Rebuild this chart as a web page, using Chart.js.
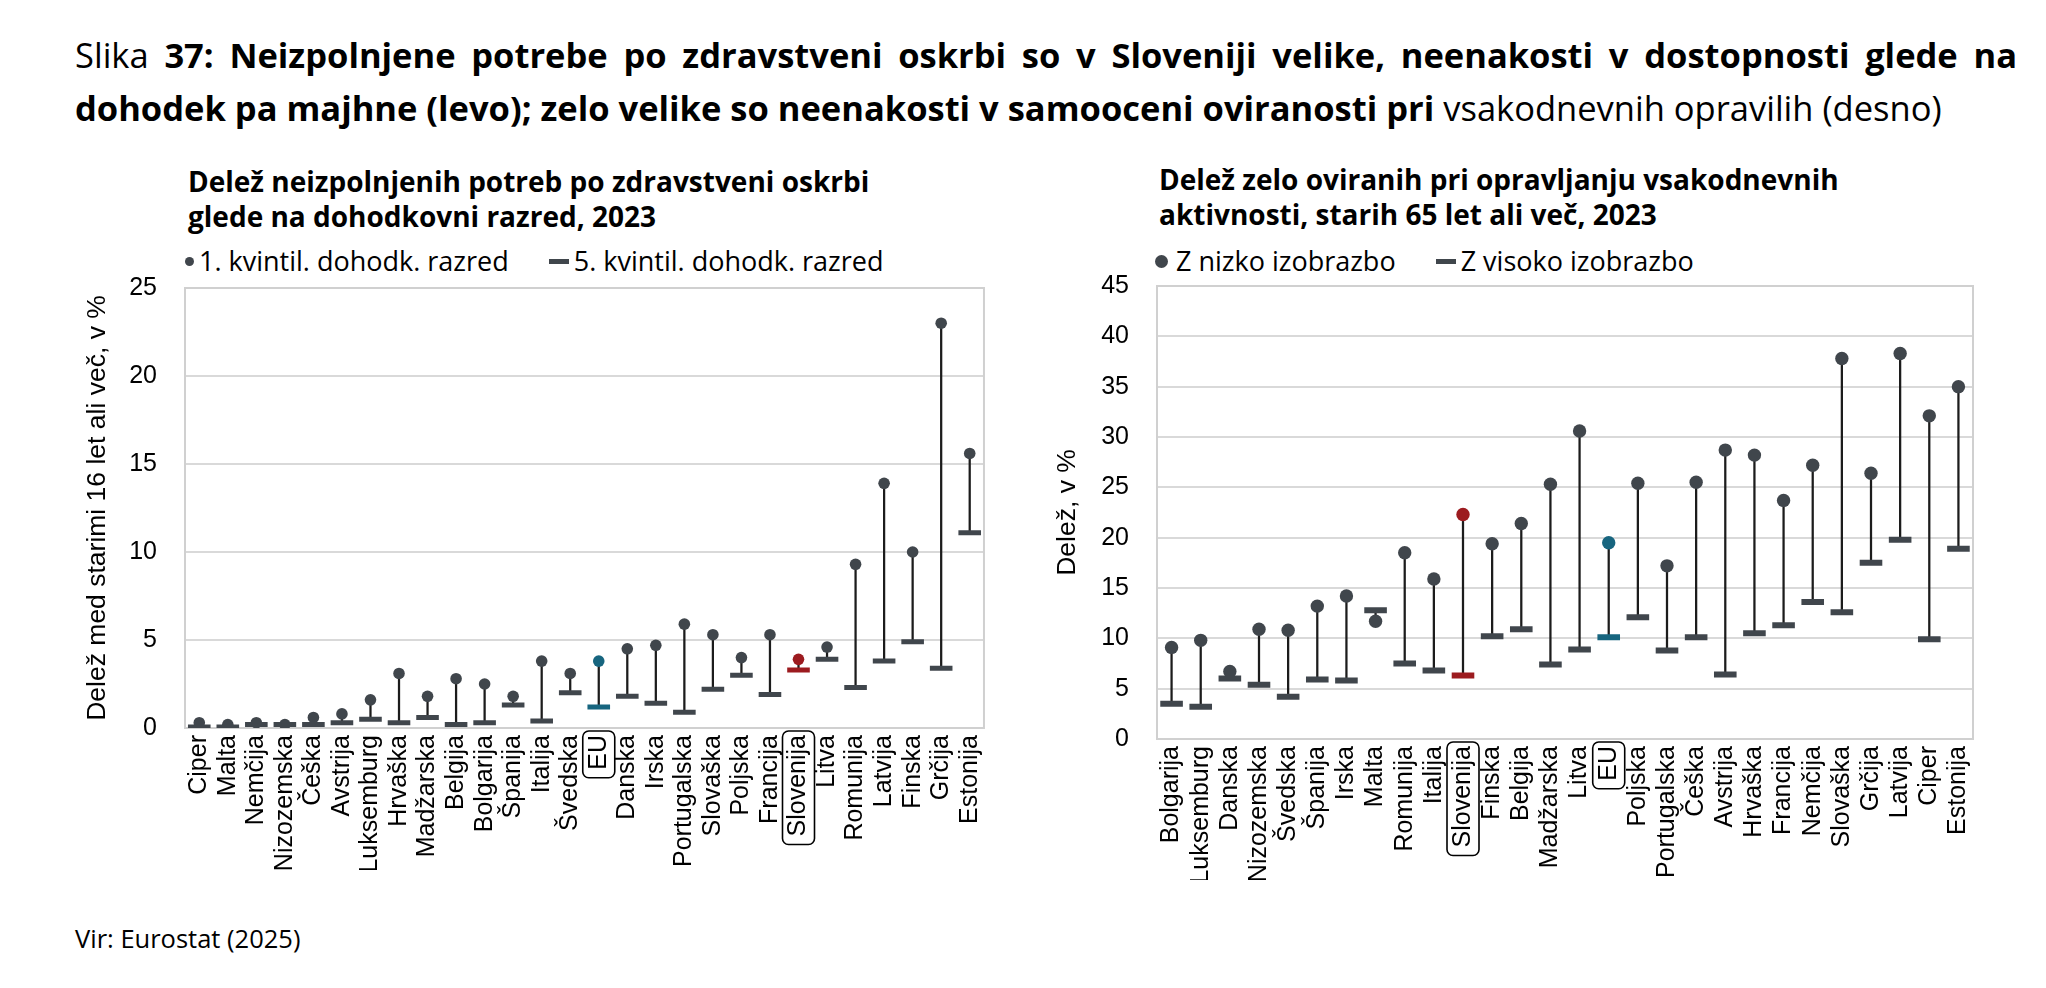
<!DOCTYPE html>
<html>
<head>
<meta charset="utf-8">
<script src="https://cdn.jsdelivr.net/npm/chart.js@4.4.1/dist/chart.umd.min.js"></script>
<style>
  html, body { margin: 0; padding: 0; background: #fff; }
  body { width: 2046px; height: 988px; position: relative; overflow: hidden; font-family: "Open Sans", sans-serif; color: #000; }
  .abs { position: absolute; white-space: nowrap; }
  #t1 { left: 75px; top: 31px; width: 1942px; font-size: 34.5px; line-height: 48px; text-align: justify; text-align-last: justify; white-space: normal; }
  #t2 { left: 75px; top: 84px; font-size: 34.5px; line-height: 48px; }
  .sub { font-weight: bold; font-size: 28px; line-height: 35px; }
  .leg { font-size: 27px; line-height: 36px; display: flex; align-items: center; }
  .dot { display: inline-block; border-radius: 50%; background: #40464c; }
  .dash { display: inline-block; width: 20px; height: 5px; background: #40464c; margin-right: 5px; margin-left: 40px; }
  #src { left: 75px; top: 921px; font-size: 25.5px; }
  .box { position: absolute; }
</style>
</head>
<body>
<div id="t1" class="abs">Slika <b>37: Neizpolnjene potrebe po zdravstveni oskrbi so v Sloveniji velike, neenakosti v dostopnosti glede na</b></div>
<div id="t2" class="abs"><b>dohodek pa majhne (levo); zelo velike so neenakosti v samooceni oviranosti pri</b> vsakodnevnih opravilih (desno)</div>

<div class="abs sub" style="left:188px; top:164px;">Delež neizpolnjenih potreb po zdravstveni oskrbi<br>glede na dohodkovni razred, 2023</div>
<div class="abs leg" style="left:185px; top:243px;"><span class="dot" style="width:9px;height:9px;margin-right:5px;"></span>1. kvintil. dohodk. razred<span class="dash"></span>5. kvintil. dohodk. razred</div>

<div class="abs sub" style="left:1159px; top:162px;">Delež zelo oviranih pri opravljanju vsakodnevnih<br>aktivnosti, starih 65 let ali več, 2023</div>
<div class="abs leg" style="left:1155px; top:243px;"><span class="dot" style="width:13px;height:13px;margin-right:8px;"></span>Z nizko izobrazbo<span class="dash"></span>Z visoko izobrazbo</div>

<div id="src" class="abs">Vir: Eurostat (2025)</div>

<div class="box" style="left:60px; top:245px; width:947px; height:625px;"><canvas id="c1"></canvas></div>
<div class="box" style="left:1030px; top:243px; width:1010px; height:637px;"><canvas id="c2"></canvas></div>

<script>
// ---------- Data: left chart ----------
const leftCategories = ["Ciper","Malta","Nemčija","Nizozemska","Češka","Avstrija","Luksemburg","Hrvaška","Madžarska","Belgija","Bolgarija","Španija","Italija","Švedska","EU","Danska","Irska","Portugalska","Slovaška","Poljska","Francija","Slovenija","Litva","Romunija","Latvija","Finska","Grčija","Estonija"];
const leftQ1 = [0.3,0.2,0.3,0.2,0.6,0.8,1.6,3.1,1.8,2.8,2.5,1.8,3.8,3.1,3.8,4.5,4.7,5.9,5.3,4.0,5.3,3.9,4.6,9.3,13.9,10.0,23.0,15.6];
const leftQ5 = [0.05,0.05,0.2,0.2,0.2,0.3,0.5,0.3,0.6,0.2,0.3,1.3,0.4,2.0,1.2,1.8,1.4,0.9,2.2,3.0,1.9,3.3,3.9,2.3,3.8,4.9,3.4,11.1];
const leftTicks = [0,5,10,15,20,25];

// ---------- Data: right chart ----------
const rightCategories = ["Bolgarija","Luksemburg","Danska","Nizozemska","Švedska","Španija","Irska","Malta","Romunija","Italija","Slovenija","Finska","Belgija","Madžarska","Litva","EU","Poljska","Portugalska","Češka","Avstrija","Hrvaška","Francija","Nemčija","Slovaška","Grčija","Latvija","Ciper","Estonija"];
const rightLow = [9.1,9.8,6.7,10.9,10.8,13.2,14.2,11.7,18.5,15.9,22.3,19.4,21.4,25.3,30.6,19.5,25.4,17.2,25.5,28.7,28.2,23.7,27.2,37.8,26.4,38.3,32.1,35.0];
const rightHigh = [3.5,3.2,6.0,5.4,4.2,5.9,5.8,12.8,7.5,6.8,6.3,10.2,10.9,7.4,8.9,10.1,12.1,8.8,10.1,6.4,10.5,11.3,13.6,12.6,17.5,19.8,9.9,18.9];
const rightTicks = [0,5,10,15,20,25,30,35,40,45];

const boxedLabels = ["EU","Slovenija"];
const GREY = "#40464c", TEAL = "#17657f", RED = "#9c1b1f", STEM = "#1c1c1c";
const colorFor = c => c === "EU" ? TEAL : (c === "Slovenija" ? RED : GREY);
const TICK_FONT = { family: "'Liberation Sans', Arial, sans-serif", size: 25 };

const plotFrame = {
  id: "plotFrame",
  beforeDatasetsDraw(chart) {
    const a = chart.chartArea, ctx = chart.ctx;
    ctx.save();
    ctx.strokeStyle = "#d0d0d0"; ctx.lineWidth = 2;
    ctx.strokeRect(a.left, a.top, a.right - a.left, a.bottom - a.top);
    ctx.restore();
  }
};
const boxTicks = {
  id: "boxTicks",
  afterDraw(chart) {
    const sx = chart.scales.x, ctx = chart.ctx;
    ctx.save();
    ctx.font = TICK_FONT.size + "px " + TICK_FONT.family;
    ctx.strokeStyle = "#000"; ctx.lineWidth = 1.6;
    chart.data.labels.forEach((lab, i) => {
      if (!boxedLabels.includes(lab)) return;
      const px = sx.getPixelForTick(i);
      const w = ctx.measureText(lab).width;
      const y0 = sx.top + 3, h = w + 12, x0 = px - 16, bw = 32;
      ctx.beginPath();
      ctx.roundRect(x0, y0, bw, h, 6);
      ctx.stroke();
    });
    ctx.restore();
  }
};

function makeChart(id, cats, top, bot, ticks, opts) {
  const ctx = document.getElementById(id);
  return new Chart(ctx, {
    data: {
      labels: cats,
      datasets: [
        { type: "line", label: "dash", data: bot, showLine: false, order: 1,
          pointStyle: "line", pointRadius: opts.dashR, pointHoverRadius: opts.dashR,
          pointBorderWidth: opts.dashW, pointHoverBorderWidth: opts.dashW,
          pointBorderColor: cats.map(colorFor), pointBackgroundColor: cats.map(colorFor) },
        { type: "line", label: "dot", data: top, showLine: false, order: 2,
          pointStyle: "circle", pointRadius: opts.dotR, pointHoverRadius: opts.dotR, pointBorderWidth: 0,
          pointBackgroundColor: cats.map(colorFor), pointBorderColor: cats.map(colorFor) },
        { type: "bar", label: "stem", data: cats.map((c, i) => [Math.min(top[i], bot[i]), Math.max(top[i], bot[i])]),
          backgroundColor: STEM, barThickness: 1.6, order: 3, grouped: false }
      ]
    },
    options: {
      responsive: true, maintainAspectRatio: false, animation: false,
      layout: { padding: { top: opts.padTop, right: opts.padRight, left: 0, bottom: 0 } },
      plugins: { legend: { display: false }, tooltip: { enabled: false } },
      scales: {
        x: {
          type: "category", offset: true,
          grid: { display: false, drawTicks: false },
          border: { display: true, color: "#d0d0d0", width: 2 },
          ticks: { autoSkip: false, minRotation: 90, maxRotation: 90, padding: 7, color: "#000", font: TICK_FONT },
          afterFit(s) { s.height = opts.xH; }
        },
        y: {
          min: ticks[0], max: ticks[ticks.length - 1],
          afterBuildTicks(s) { s.ticks = ticks.map(v => ({ value: v })); },
          grid: { color: "#d9d9d9", lineWidth: 2, drawTicks: false },
          border: { display: true, color: "#d0d0d0", width: 2 },
          ticks: { padding: 28, color: "#000", font: TICK_FONT },
          title: { display: true, text: opts.yTitle, color: "#000", padding: { top: 22, bottom: 0 },
                   font: { family: "'Liberation Sans', Arial, sans-serif", size: 26.5 } },
          afterFit(s) { s.width = opts.yW; }
        }
      }
    },
    plugins: [plotFrame, boxTicks]
  });
}

makeChart("c1", leftCategories, leftQ1, leftQ5, leftTicks,
  { dotR: 5.8, dashR: 11.3, dashW: 5, padTop: 12, padRight: 10, xH: 142, yW: 125,
    yTitle: "Delež med starimi 16 let ali več, v %" });
makeChart("c2", rightCategories, rightLow, rightHigh, rightTicks,
  { dotR: 6.7, dashR: 11.3, dashW: 6, padTop: 12, padRight: 67, xH: 141, yW: 127,
    yTitle: "Delež, v %" });
</script>
</body>
</html>
